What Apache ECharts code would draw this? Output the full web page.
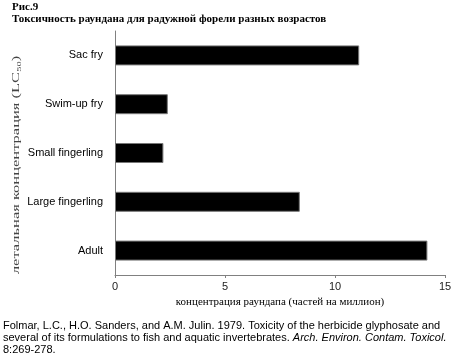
<!DOCTYPE html>
<html>
<head>
<meta charset="UTF-8">
<title>Рис.9</title>
<script src="https://cdn.jsdelivr.net/npm/echarts@6/dist/echarts.min.js"></script>
<style>
	html, body { margin: 0; padding: 0; background: #fff; }
	#chart { width: 452px; height: 354px; }
</style>
</head>
<body>
<div id="chart"></div>
<script>
// stages (top to bottom in picture) and LC50 values, ppm
var stages = ['Sac fry', 'Swim-up fry', 'Small fingerling', 'Large fingerling', 'Adult'];
var lc50 = [11.1, 2.4, 2.2, 8.4, 14.2];
var xTicks = [0, 5, 10, 15];

var serif = '"Liberation Serif", "DejaVu Serif", serif';
var sans = '"Liberation Sans", Arial, sans-serif';

var chart = echarts.init(document.getElementById('chart'));
chart.setOption({
	animation: false,
	title: [{
		left: 12, top: 1, padding: 0,
		text: 'Рис.9\nТоксичность раундана для радужной форели разных возрастов',
		textStyle: { fontFamily: serif, fontSize: 11, fontWeight: 'bold', color: '#000', lineHeight: 12 }
	}, {
		left: 3, top: 320, padding: 0,
		text: '{n|Folmar, L.C., H.O. Sanders, and A.M. Julin. 1979. Toxicity of the herbicide glyphosate and}\n' +
			'{n|several of its formulations to fish and aquatic invertebrates. }{i|Arch. Environ. Contam. Toxicol.}\n' +
			'{n|8:269-278.}',
		textStyle: {
			fontWeight: 'normal',
			rich: {
				n: { fontFamily: sans, fontSize: 11, fontWeight: 'normal', color: '#000', lineHeight: 12 },
				i: { fontFamily: sans, fontSize: 11, fontWeight: 'normal', fontStyle: 'italic', color: '#000', lineHeight: 12 }
			}
		}
	}],
	// y axis title: the original is stretched along its length
	graphic: [{
		type: 'text',
		x: 16, y: 165,
		rotation: Math.PI / 2,
		scaleX: 1.5,
		style: {
			text: 'летальная концентрация (LC{s|50})',
			fontFamily: serif, fontSize: 11, fill: '#444',
			align: 'center', verticalAlign: 'middle',
			rich: { s: { fontFamily: serif, fontSize: 7, fill: '#444', padding: [6, 0, 0, 0] } }
		}
	}],
	grid: { left: 115, right: 7, top: 31, bottom: 79, outerBoundsMode: 'none', containLabel: false },
	xAxis: {
		type: 'value',
		min: xTicks[0], max: xTicks[xTicks.length - 1], interval: 5,
		name: 'концентрация раундапа (частей на миллион)',
		nameLocation: 'middle', nameGap: 20,
		nameTextStyle: { fontFamily: serif, fontSize: 11, color: '#000' },
		axisLine: { show: true, lineStyle: { color: '#808080', width: 1 } },
		axisTick: { show: true, inside: false, length: 3, lineStyle: { color: '#808080' } },
		axisLabel: { fontFamily: sans, fontSize: 11, color: '#222', margin: 6 },
		splitLine: { show: false }
	},
	yAxis: {
		type: 'category',
		data: stages,
		inverse: true,
		axisLine: { show: true, lineStyle: { color: '#808080', width: 1 } },
		axisTick: { show: false },
		axisLabel: { fontFamily: sans, fontSize: 11, color: '#000', margin: 12 }
	},
	series: [{
		type: 'bar',
		data: lc50,
		barWidth: 20,
		itemStyle: { color: '#000', borderColor: '#777', borderWidth: 1 }
	}]
});
</script>
</body>
</html>
